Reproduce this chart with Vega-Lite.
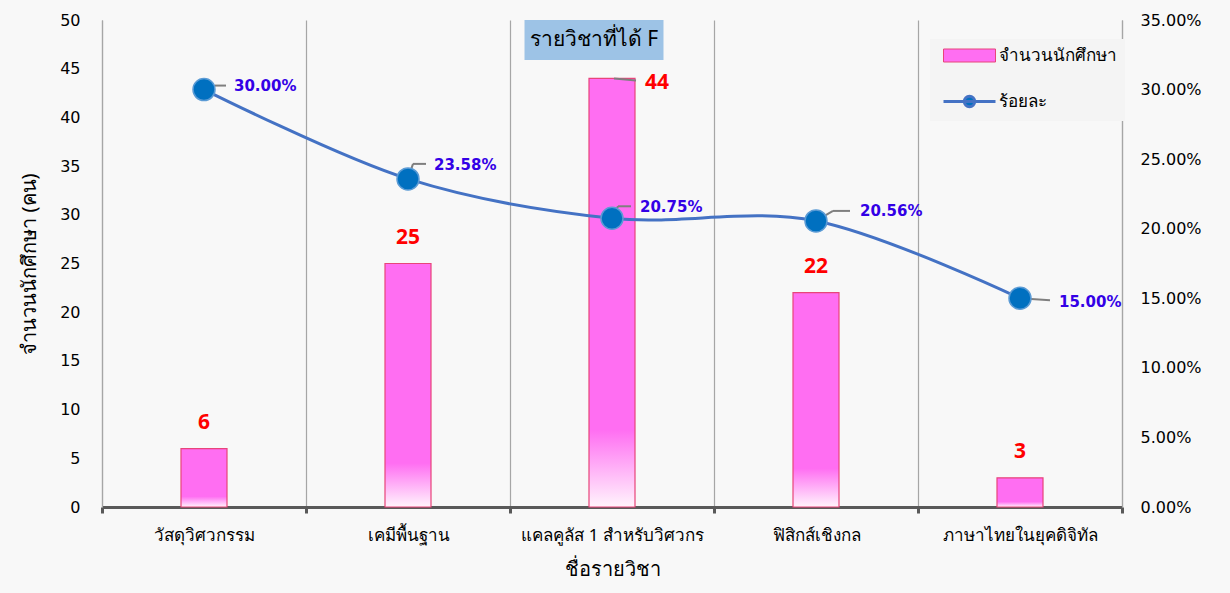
{
  "$schema": "https://vega.github.io/schema/vega-lite/v6.json",
  "width": 1020,
  "height": 487,
  "autosize": {"type": "none"},
  "padding": {"left": 102, "top": 20, "right": 108, "bottom": 86},
  "background": "#f8f8f8",
  "config": {
    "font": "Noto Sans",
    "view": {"stroke": null},
    "axis": {"labelColor": "#000000", "titleColor": "#000000", "labelFontSize": 16, "titleFontSize": 20, "titleFontWeight": "normal"}
  },
  "data": {
    "values": [
      {"subject": "วัสดุวิศวกรรม", "count": 6, "pct": 0.30},
      {"subject": "เคมีพื้นฐาน", "count": 25, "pct": 0.2358},
      {"subject": "แคลคูลัส 1 สำหรับวิศวกร", "count": 44, "pct": 0.2075},
      {"subject": "ฟิสิกส์เชิงกล", "count": 22, "pct": 0.2056},
      {"subject": "ภาษาไทยในยุคดิจิทัล", "count": 3, "pct": 0.15}
    ]
  },
  "layer": [
    {
      "layer": [
        {
          "mark": {
            "type": "bar",
            "width": 46,
            "stroke": "#E8457A",
            "strokeWidth": 1.2,
            "fill": {
              "gradient": "linear", "x1": 0, "y1": 0, "x2": 0, "y2": 1,
              "stops": [
                {"offset": 0, "color": "#FF6EF2"},
                {"offset": 0.82, "color": "#FF6EF2"},
                {"offset": 1, "color": "#FFF4FC"}
              ]
            }
          },
          "encoding": {
            "x": {
              "field": "subject", "type": "nominal", "sort": null,
              "scale": {"paddingInner": 0, "paddingOuter": 0},
              "axis": {
                "title": "ชื่อรายวิชา", "titlePadding": 16,
                "labelAngle": 0, "labelPadding": 14, "labelFontSize": 17, "labelLimit": 300,
                "domainColor": "#595959", "domainWidth": 3,
                "tickBand": "extent", "tickColor": "#595959", "tickWidth": 3, "tickSize": 6,
                "grid": true, "gridColor": "#a6a6a6", "gridWidth": 1.2
              }
            },
            "y": {
              "field": "count", "type": "quantitative",
              "scale": {"domain": [0, 50]},
              "axis": {
                "title": "จำนวนนักศึกษา (คน)", "titlePadding": 20,
                "values": [0, 5, 10, 15, 20, 25, 30, 35, 40, 45, 50],
                "labelFont": "DejaVu Sans",
                "ticks": false, "labelPadding": 22, "grid": false,
                "domainColor": "#a6a6a6", "domainWidth": 1.2
              }
            }
          }
        },
        {
          "transform": [{"filter": "datum.count < 40"}],
          "mark": {"type": "text", "dy": -26, "fontSize": 21, "fontWeight": "bold", "fill": "#FF0000"},
          "encoding": {
            "x": {"field": "subject", "type": "nominal", "sort": null},
            "y": {"field": "count", "type": "quantitative"},
            "text": {"field": "count", "type": "quantitative"}
          }
        },
        {
          "transform": [{"filter": "datum.count >= 40"}],
          "mark": {"type": "rule", "color": "#7f7f7f", "strokeWidth": 2, "xOffset": 2, "x2Offset": 24, "yOffset": 0, "y2Offset": 2},
          "encoding": {
            "x": {"field": "subject", "type": "nominal", "sort": null},
            "x2": {"field": "subject"},
            "y": {"field": "count", "type": "quantitative"},
            "y2": {"field": "count"}
          }
        },
        {
          "transform": [{"filter": "datum.count >= 40"}],
          "mark": {"type": "text", "dx": 45, "dy": 5, "fontSize": 21, "fontWeight": "bold", "fill": "#FF0000"},
          "encoding": {
            "x": {"field": "subject", "type": "nominal", "sort": null},
            "y": {"field": "count", "type": "quantitative"},
            "text": {"field": "count", "type": "quantitative"}
          }
        },
        {
          "data": {"values": [{"label": "รายวิชาที่ได้ F"}]},
          "mark": {"type": "rect", "fill": "#9DC3E6", "width": 139, "xOffset": -18},
          "encoding": {
            "x": {"datum": "แคลคูลัส 1 สำหรับวิศวกร", "type": "nominal"},
            "y": {"datum": 50, "type": "quantitative"},
            "y2": {"datum": 45.9}
          }
        },
        {
          "data": {"values": [{"label": "รายวิชาที่ได้ F"}]},
          "mark": {"type": "text", "xOffset": -18, "fontSize": 21, "fill": "#000000"},
          "encoding": {
            "x": {"datum": "แคลคูลัส 1 สำหรับวิศวกร", "type": "nominal"},
            "y": {"datum": 47.95, "type": "quantitative"},
            "text": {"field": "label", "type": "nominal"}
          }
        }
      ]
    },
    {
      "encoding": {
        "x": {"field": "subject", "type": "nominal", "sort": null},
        "y": {
          "field": "pct", "type": "quantitative",
          "scale": {"domain": [0, 0.35]},
          "axis": {
            "orient": "right", "title": null, "format": ".2%",
            "values": [0, 0.05, 0.1, 0.15, 0.2, 0.25, 0.3, 0.35],
            "labelFont": "DejaVu Sans",
            "ticks": false, "labelPadding": 18, "grid": false,
            "domainColor": "#a6a6a6", "domainWidth": 1.2
          }
        }
      },
      "layer": [
        {
          "mark": {"type": "line", "interpolate": "cardinal"},
          "encoding": {
            "strokeWidth": {"value": 3},
            "stroke": {
              "datum": "ร้อยละ", "type": "nominal",
              "scale": {"domain": ["จำนวนนักศึกษา", "ร้อยละ"], "range": ["#E8457A", "#4472C4"]},
              "legend": {
                "title": null, "orient": "none", "legendX": 828, "legendY": 19,
                "padding": 8, "fillColor": "#f4f4f4",
                "labelFontSize": 17, "labelColor": "#000000",
                "symbolOffset": 23, "labelOffset": 21,
                "symbolSize": 2704, "rowPadding": 26, "symbolOpacity": 1,
                "symbolType": {"expr": "datum.value === 'ร้อยละ' ? 'M-1,0H1M0.2,0A0.2,0.2 0 1,1 -0.2,0A0.2,0.2 0 1,1 0.2,0' : 'M-1,-0.25H1V0.25H-1Z'"},
                "symbolFillColor": {"expr": "datum.value === 'ร้อยละ' ? '#0070C0' : '#FF6EF2'"},
                "symbolStrokeWidth": {"expr": "datum.value === 'ร้อยละ' ? 3 : 1"}
              }
            }
          }
        },
        {
          "transform": [{"filter": "datum.subject === 'วัสดุวิศวกรรม'"}],
          "layer": [
            {"mark": {"type": "rule", "color": "#7f7f7f", "strokeWidth": 2, "xOffset": 0, "yOffset": 0, "x2Offset": 11, "y2Offset": -4}, "encoding": {"x2": {"field": "subject"}, "y2": {"field": "pct"}}},
            {"mark": {"type": "rule", "color": "#7f7f7f", "strokeWidth": 2, "xOffset": 11, "yOffset": -4, "x2Offset": 22, "y2Offset": -4}, "encoding": {"x2": {"field": "subject"}, "y2": {"field": "pct"}}}
          ]
        },
        {
          "transform": [{"filter": "datum.subject === 'เคมีพื้นฐาน'"}],
          "layer": [
            {"mark": {"type": "rule", "color": "#7f7f7f", "strokeWidth": 2, "xOffset": 0, "yOffset": 0, "x2Offset": 5, "y2Offset": -15}, "encoding": {"x2": {"field": "subject"}, "y2": {"field": "pct"}}},
            {"mark": {"type": "rule", "color": "#7f7f7f", "strokeWidth": 2, "xOffset": 5, "yOffset": -15, "x2Offset": 18, "y2Offset": -15}, "encoding": {"x2": {"field": "subject"}, "y2": {"field": "pct"}}}
          ]
        },
        {
          "transform": [{"filter": "datum.subject === 'แคลคูลัส 1 สำหรับวิศวกร'"}],
          "layer": [
            {"mark": {"type": "rule", "color": "#7f7f7f", "strokeWidth": 2, "xOffset": 0, "yOffset": 0, "x2Offset": 6, "y2Offset": -12}, "encoding": {"x2": {"field": "subject"}, "y2": {"field": "pct"}}},
            {"mark": {"type": "rule", "color": "#7f7f7f", "strokeWidth": 2, "xOffset": 6, "yOffset": -12, "x2Offset": 19, "y2Offset": -12}, "encoding": {"x2": {"field": "subject"}, "y2": {"field": "pct"}}}
          ]
        },
        {
          "transform": [{"filter": "datum.subject === 'ฟิสิกส์เชิงกล'"}],
          "layer": [
            {"mark": {"type": "rule", "color": "#7f7f7f", "strokeWidth": 2, "xOffset": 0, "yOffset": 0, "x2Offset": 17, "y2Offset": -10}, "encoding": {"x2": {"field": "subject"}, "y2": {"field": "pct"}}},
            {"mark": {"type": "rule", "color": "#7f7f7f", "strokeWidth": 2, "xOffset": 17, "yOffset": -10, "x2Offset": 34, "y2Offset": -10}, "encoding": {"x2": {"field": "subject"}, "y2": {"field": "pct"}}}
          ]
        },
        {
          "transform": [{"filter": "datum.subject === 'ภาษาไทยในยุคดิจิทัล'"}],
          "layer": [
            {"mark": {"type": "rule", "color": "#7f7f7f", "strokeWidth": 2, "xOffset": 0, "yOffset": 0, "x2Offset": 30, "y2Offset": 2}, "encoding": {"x2": {"field": "subject"}, "y2": {"field": "pct"}}}
          ]
        },
        {
          "mark": {"type": "point", "filled": true, "size": 484, "fill": "#0070C0", "stroke": "#5B9BD5", "strokeWidth": 1.5, "opacity": 1}
        },
        {
          "transform": [{"filter": "datum.subject === 'วัสดุวิศวกรรม'"}],
          "mark": {"type": "text", "align": "left", "dx": 30, "dy": -4, "font": "DejaVu Sans", "fontSize": 15, "fontWeight": "bold", "fill": "#3300E6"},
          "encoding": {"text": {"field": "pct", "type": "quantitative", "format": ".2%"}}
        },
        {
          "transform": [{"filter": "datum.subject === 'เคมีพื้นฐาน'"}],
          "mark": {"type": "text", "align": "left", "dx": 26, "dy": -14, "font": "DejaVu Sans", "fontSize": 15, "fontWeight": "bold", "fill": "#3300E6"},
          "encoding": {"text": {"field": "pct", "type": "quantitative", "format": ".2%"}}
        },
        {
          "transform": [{"filter": "datum.subject === 'แคลคูลัส 1 สำหรับวิศวกร'"}],
          "mark": {"type": "text", "align": "left", "dx": 28, "dy": -11, "font": "DejaVu Sans", "fontSize": 15, "fontWeight": "bold", "fill": "#3300E6"},
          "encoding": {"text": {"field": "pct", "type": "quantitative", "format": ".2%"}}
        },
        {
          "transform": [{"filter": "datum.subject === 'ฟิสิกส์เชิงกล'"}],
          "mark": {"type": "text", "align": "left", "dx": 44, "dy": -10, "font": "DejaVu Sans", "fontSize": 15, "fontWeight": "bold", "fill": "#3300E6"},
          "encoding": {"text": {"field": "pct", "type": "quantitative", "format": ".2%"}}
        },
        {
          "transform": [{"filter": "datum.subject === 'ภาษาไทยในยุคดิจิทัล'"}],
          "mark": {"type": "text", "align": "left", "dx": 39, "dy": 4, "font": "DejaVu Sans", "fontSize": 15, "fontWeight": "bold", "fill": "#3300E6"},
          "encoding": {"text": {"field": "pct", "type": "quantitative", "format": ".2%"}}
        }
      ]
    }
  ],
  "resolve": {"scale": {"y": "independent"}}
}
